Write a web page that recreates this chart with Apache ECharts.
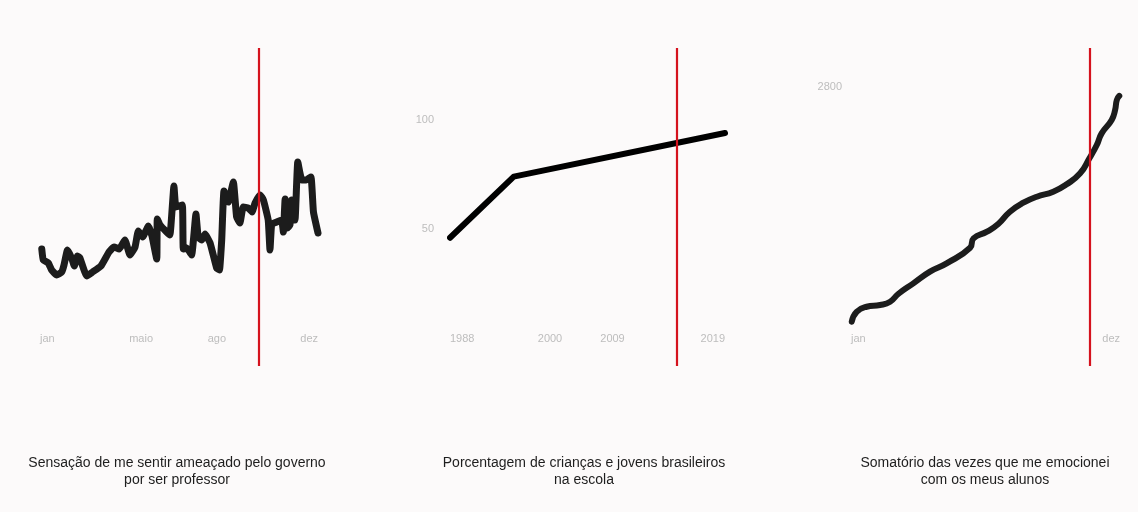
<!DOCTYPE html>
<html>
<head>
<meta charset="utf-8">
<script src="https://cdn.jsdelivr.net/npm/echarts@6/dist/echarts.min.js"></script>
<style>
  html, body { margin: 0; padding: 0; background: #fcfafa; }
  #chart { width: 1138px; height: 512px; }
</style>
</head>
<body>
<div id="chart"></div>
<script>
// ---------- Panel 1: threatened feeling (month index 0 = jan ... 11 = dez) ----------
const p1Months = [0.07,0.13,0.33,0.46,0.66,0.86,0.95,1.09,1.25,1.36,1.48,1.58,1.85,2.08,2.41,2.73,2.93,3.13,3.36,3.56,3.76,3.89,4.06,4.29,4.43,4.62,4.64,4.75,5.01,5.14,5.30,5.38,5.63,5.67,5.81,6.00,6.17,6.26,6.40,6.53,6.73,6.99,7.10,7.19,7.28,7.45,7.65,7.78,7.91,8.04,8.24,8.39,8.51,8.71,8.84,9.03,9.10,9.17,9.37,9.56,9.63,9.70,9.79,9.89,9.96,10.09,10.20,10.36,10.53,10.72,10.82,11.0];
const p1Values = [89,78,75,68,63,66,73,88,80,72,82,80,62,66,72,86,91,89,98,83,91,107,101,112,102,79,119,113,106,103,152,131,133,89,90,83,124,101,98,104,95,70,68,98,147,136,156,121,115,131,130,126,135,143,138,118,88,114,116,118,106,139,110,113,138,118,176,158,158,161,126,105];
const p1TickMonths = [0, 4, 7, 11];
const p1TickLabels = ['jan', 'maio', 'ago', 'dez'];
const p1Marker = 8.67;
const p1Caption = 'Sensação de me sentir ameaçado pelo governo\npor ser professor';

// ---------- Panel 2: % of Brazilian children and youth in school ----------
const p2Slots = [0, 5.1, 22];           // position along the drawn (non-linear) time axis
const p2Values = [46, 74, 94];
const p2TickSlots = [0, 8, 13, 22];
const p2TickLabels = ['1988', '2000', '2009', '2019'];
const p2YTicks = [50, 100];
const p2Marker = 18.15;
const p2Caption = 'Porcentagem de crianças e jovens brasileiros\nna escola';

// ---------- Panel 3: cumulative emotional moments with students ----------
const p3Months = [0.03,0.23,0.64,1.19,1.60,1.93,2.55,3.23,3.91,4.87,5.01,5.56,6.02,6.50,7.05,7.60,8.27,8.82,9.37,9.75,10.05,10.25,10.66,10.80,10.87,10.97];
const p3Values = [182,293,349,368,405,491,610,740,833,1007,1112,1186,1272,1409,1509,1576,1632,1715,1837,2005,2153,2283,2432,2543,2655,2700];
const p3TickMonths = [0, 11];
const p3TickLabels = ['jan', 'dez'];
const p3YTicks = [2800];
const p3Marker = 9.77;
const p3Caption = 'Somatório das vezes que me emocionei\ncom os meus alunos';

// ---------- build ----------
const LABEL_COLOR = '#bdbdbd';
const RED = '#d5121d';
const FONT = 'Liberation Sans, Arial, sans-serif';

function pairs(xs, ys) { return xs.map((x, i) => [x, ys[i]]); }
function labelFor(ticks, labels) {
  return function (v) {
    for (let i = 0; i < ticks.length; i++) if (Math.abs(ticks[i] - v) < 1e-6) return labels[i];
    return '';
  };
}
function xAxisDef(gridIndex, min, max, ticks, labels) {
  return {
    type: 'value', gridIndex, min, max,
    axisLine: { show: false }, axisTick: { show: false }, splitLine: { show: false },
    axisLabel: {
      inside: true, margin: 22, customValues: ticks,
      formatter: labelFor(ticks, labels),
      color: LABEL_COLOR, fontSize: 11, fontFamily: FONT,
      alignMinLabel: 'left', alignMaxLabel: 'right'
    }
  };
}
function yAxisDef(gridIndex, min, max, ticks, margin) {
  return {
    type: 'value', gridIndex, min, max,
    axisLine: { show: false }, axisTick: { show: false }, splitLine: { show: false },
    axisLabel: ticks ? {
      show: true, customValues: ticks, margin: margin,
      formatter: function (v) { return String(v); },
      color: LABEL_COLOR, fontSize: 11, fontFamily: FONT
    } : { show: false }
  };
}
function markerLine(x) {
  return {
    silent: true, symbol: 'none', animation: false,
    label: { show: false },
    lineStyle: { color: RED, width: 2.2, type: 'solid' },
    data: [{ xAxis: x }]
  };
}
function lineSeries(idx, data, smooth, width, color) {
  return {
    type: 'line', xAxisIndex: idx, yAxisIndex: idx, data,
    showSymbol: false, smooth, animation: false,
    lineStyle: { color, width, cap: 'round', join: 'round' }
  };
}
function caption(text, cx) {
  return {
    text, left: cx, top: 450, textAlign: 'center',
    textStyle: { fontFamily: FONT, fontSize: 14, fontWeight: 'normal', color: '#1e1e1e', lineHeight: 17 }
  };
}

const chart = echarts.init(document.getElementById('chart'), null, { renderer: 'canvas' });
chart.setOption({
  backgroundColor: '#fcfafa',
  animation: false,
  title: [caption(p1Caption, 172), caption(p2Caption, 579), caption(p3Caption, 980)],
  grid: [
    { left: 40,  right: 820, top: 48, bottom: 146 },
    { left: 450, right: 413, top: 48, bottom: 146 },
    { left: 851, right: 18,  top: 48, bottom: 146 }
  ],
  xAxis: [
    xAxisDef(0, 0, 11, p1TickMonths, p1TickLabels),
    xAxisDef(1, 0, 22, p2TickSlots, p2TickLabels),
    xAxisDef(2, 0, 11, p3TickMonths, p3TickLabels)
  ],
  yAxis: [
    yAxisDef(0, -28, 290, null),
    yAxisDef(1, -12.8, 133, p2YTicks, 16),
    yAxisDef(2, -312, 3235, p3YTicks, 9)
  ],
  series: [
    Object.assign(lineSeries(0, pairs(p1Months, p1Values), 0.12, 7, '#1c1c1c'), { markLine: markerLine(p1Marker) }),
    Object.assign(lineSeries(1, pairs(p2Slots, p2Values), false, 6, '#000000'), { markLine: markerLine(p2Marker) }),
    Object.assign(lineSeries(2, pairs(p3Months, p3Values), 0.5, 6, '#1c1c1c'), { markLine: markerLine(p3Marker) })
  ]
});
</script>
</body>
</html>
